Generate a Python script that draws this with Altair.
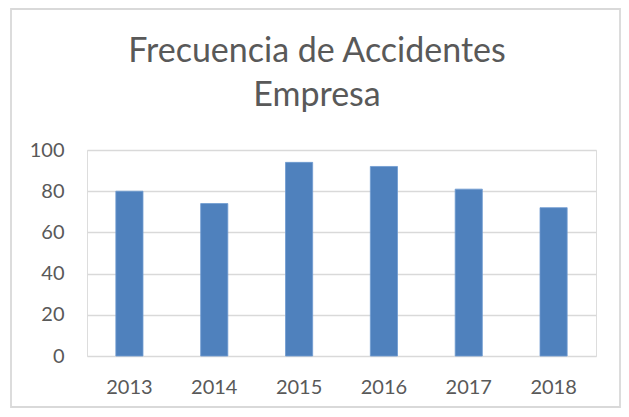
import altair as alt
import pandas as pd

years = ["2013", "2014", "2015", "2016", "2017", "2018"]
values = [80, 74, 94, 92, 81, 72]
title_lines = ["Frecuencia de Accidentes", "Empresa"]
y_ticks = [0, 20, 40, 60, 80, 100]

df = pd.DataFrame({"year": years, "value": values})

FONT = "Lato"
TXT = "#595959"
GRID = "#d9d9d9"

bars = alt.Chart(df).mark_bar(color="#4f81bd", stroke="#6f9ad0", strokeWidth=0.8).encode(
    x=alt.X("year:N", sort=years, title=None,
            scale=alt.Scale(paddingInner=0.68, paddingOuter=0.34),
            axis=alt.Axis(labelAngle=0, domain=False, ticks=False, grid=False,
                          labelPadding=21, labelFontSize=20, labelFont=FONT,
                          labelColor=TXT)),
    y=alt.Y("value:Q", title=None,
            scale=alt.Scale(domain=[0, 100]),
            axis=alt.Axis(values=y_ticks, domain=False, ticks=False,
                          grid=True, gridColor=GRID, gridWidth=1.6,
                          labelPadding=23, labelFontSize=20, labelFont=FONT,
                          labelColor=TXT)),
)

frame = alt.Chart(pd.DataFrame({"a": [0]})).mark_rect(
    fill="transparent", stroke=GRID, strokeWidth=1.8
).encode(
    x=alt.value(-76), x2=alt.value(533), y=alt.value(-141), y2=alt.value(257)
)

title1 = alt.Chart(pd.DataFrame({"t": [title_lines[0]]})).mark_text(
    font=FONT, fontSize=34, color=TXT, align="center", baseline="alphabetic"
).encode(text="t:N", x=alt.value(230), y=alt.value(-88))

title2 = alt.Chart(pd.DataFrame({"t": [title_lines[1]]})).mark_text(
    font=FONT, fontSize=34, color=TXT, align="center", baseline="alphabetic"
).encode(text="t:N", x=alt.value(230), y=alt.value(-44))

chart = alt.layer(frame, bars, title1, title2).properties(
    width=509, height=206,
    autosize=alt.AutoSizeParams(type="none"),
    padding={"left": 79, "top": 142, "right": 25, "bottom": 53},
).configure_view(stroke=None).configure(background="white")

chart.save("out.html", embed_options={"renderer": "svg", "actions": False})
